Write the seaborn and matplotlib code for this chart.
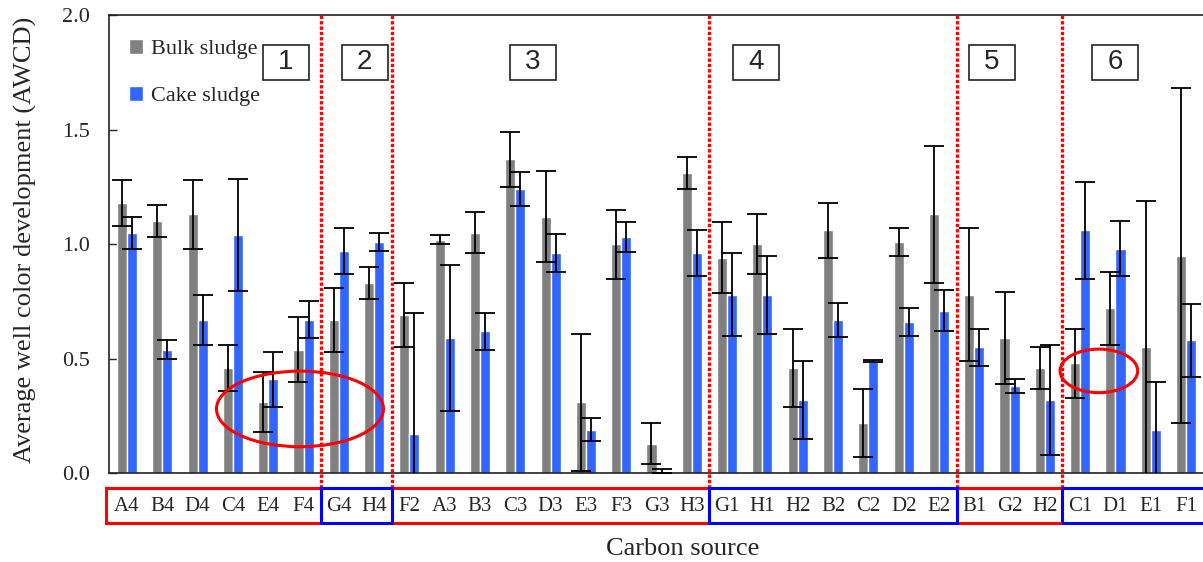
import numpy as np
import pandas as pd
import matplotlib
matplotlib.use("Agg")
import matplotlib.pyplot as plt
import matplotlib.transforms as mtransforms
from matplotlib.patches import Ellipse, Rectangle
import seaborn as sns

# =========================
# DATA
# =========================
categories = ["A4", "B4", "D4", "C4", "E4", "F4",
              "G4", "H4",
              "F2", "A3", "B3", "C3", "D3", "E3", "F3", "G3", "H3",
              "G1", "H1", "H2", "B2", "C2", "D2", "E2",
              "B1", "G2", "H2",
              "C1", "D1", "E1", "F1"]

bulk = [1.18, 1.10, 1.13, 0.46, 0.31, 0.54,
        0.67, 0.83,
        0.69, 1.02, 1.05, 1.37, 1.12, 0.31, 1.00, 0.13, 1.31,
        0.94, 1.00, 0.46, 1.06, 0.22, 1.01, 1.13,
        0.78, 0.59, 0.46,
        0.48, 0.72, 0.55, 0.95]
bulk_err = [0.10, 0.07, 0.15, 0.10, 0.13, 0.14,
            0.14, 0.07,
            0.14, 0.02, 0.09, 0.12, 0.20, 0.30, 0.15, 0.09, 0.07,
            0.155, 0.13, 0.17, 0.12, 0.15, 0.06, 0.30,
            0.29, 0.20, 0.09,
            0.15, 0.16, 0.64, 0.73]

cake = [1.05, 0.54, 0.67, 1.04, 0.41, 0.67,
        0.97, 1.01,
        0.17, 0.59, 0.62, 1.24, 0.96, 0.19, 1.03, 0.01, 0.96,
        0.78, 0.78, 0.32, 0.67, 0.49, 0.66, 0.71,
        0.55, 0.38, 0.32,
        1.06, 0.98, 0.19, 0.58]
cake_err = [0.07, 0.04, 0.11, 0.245, 0.12, 0.08,
            0.10, 0.04,
            0.53, 0.32, 0.08, 0.074, 0.083, 0.05, 0.065, 0.008, 0.10,
            0.18, 0.17, 0.17, 0.075, 0.003, 0.06, 0.09,
            0.08, 0.03, 0.24,
            0.21, 0.12, 0.21, 0.16]

groups = ["1", "2", "3", "4", "5", "6"]
group_sizes = [6, 2, 9, 7, 3, 4]
group_colors = ["red", "blue", "red", "blue", "red", "blue"]

series = ["Bulk sludge", "Cake sludge"]
palette = {"Bulk sludge": "#808080", "Cake sludge": "#3366ff"}

n = len(categories)
df = pd.DataFrame({
    "pos": list(range(n)) * 2,
    "Sample": [series[0]] * n + [series[1]] * n,
    "AWCD": bulk + cake,
})

# =========================
# PLOT
# =========================
sns.set_style("ticks")
plt.rcParams["font.family"] = ["Liberation Serif", "DejaVu Serif"]

fig = plt.figure(figsize=(12.03, 5.62), dpi=100)
ax = fig.add_axes([0.0906, 0.1578, 0.9094, 0.8155])

sns.barplot(data=df, x="pos", y="AWCD", hue="Sample", palette=palette,
            width=0.57, saturation=1, errorbar=None, ax=ax)

# error bars at the bar centres
for cont, err in zip(ax.containers, [bulk_err, cake_err]):
    xs = [p.get_x() + p.get_width() / 2 for p in cont]
    ys = [p.get_height() for p in cont]
    ax.errorbar(xs, ys, yerr=err, fmt="none", ecolor="black",
                elinewidth=1.3, capsize=7.5, capthick=1.3, zorder=3)

ax.set_ylim(0, 2.0)
ax.set_xlim(-0.51, 30.48)
ax.set_yticks([0.0, 0.5, 1.0, 1.5, 2.0])
ax.set_yticklabels(["0.0", "0.5", "1.0", "1.5", "2.0"])
ax.tick_params(axis="y", direction="in", length=5.5, width=1, labelsize=16, pad=14)
ax.set_xticks(range(n))
ax.set_xticklabels(categories)
ax.tick_params(axis="x", length=0, labelsize=15, pad=17)

for s in ["left", "top", "bottom"]:
    ax.spines[s].set_linewidth(1.2)
    ax.spines[s].set_color("#222222")
ax.spines["right"].set_visible(False)

ax.set_ylabel("Average well color development (AWCD)", fontsize=19)
ax.yaxis.set_label_coords(-0.066, 0.51)
ax.set_xlabel("Carbon source", fontsize=19)
ax.xaxis.set_label_coords(0.524, -0.142)

# legend
handles, labels = ax.get_legend_handles_labels()
ax.legend(handles, labels, loc="upper left", bbox_to_anchor=(0.018, 0.948),
          frameon=False, fontsize=16, handlelength=0.65, handleheight=0.65,
          handletextpad=0.35, labelspacing=1.2, borderaxespad=0, borderpad=0)

# group separators and label boxes
trans = mtransforms.blended_transform_factory(ax.transData, ax.transAxes)
bounds = np.concatenate([[0], np.cumsum(group_sizes)]) - 0.5
box_lo, box_hi = -0.109, -0.033
for b in bounds[1:-1]:
    ax.axvline(b, ymin=box_hi, ymax=1, color="red", lw=2.4,
               ls=(0, (1, 0.6)), clip_on=False, zorder=4)
for i, col in enumerate(group_colors):
    x0 = bounds[i] if i > 0 else -0.6
    x1 = bounds[i + 1] if i < len(group_colors) - 1 else 31.5
    z = 6 if col == "blue" else 5
    ax.add_patch(Rectangle((x0, box_lo), x1 - x0, box_hi - box_lo,
                           transform=trans, fill=False, edgecolor=col,
                           lw=2.2, clip_on=False, zorder=z))

# numbered group boxes
num_x = [4.5, 6.73, 11.5, 17.83, 24.5, 27.99]
for g, gx in zip(groups, num_x):
    ax.add_patch(Rectangle((gx - 0.65, 1.718), 1.3, 0.153, facecolor="white",
                           edgecolor="#222222", lw=1.2, zorder=5))
    ax.text(gx, 1.795, g, ha="center", va="center", fontsize=20,
            family="Liberation Sans", zorder=6)

# highlight ellipses
ax.add_patch(Ellipse((4.9, 0.281), 4.73, 0.33, fill=False, edgecolor="red",
                     lw=2.2, zorder=5))
ax.add_patch(Ellipse((27.53, 0.447), 2.2, 0.19, fill=False, edgecolor="red",
                     lw=2.2, zorder=5))

fig.savefig("out.png", dpi=100)
